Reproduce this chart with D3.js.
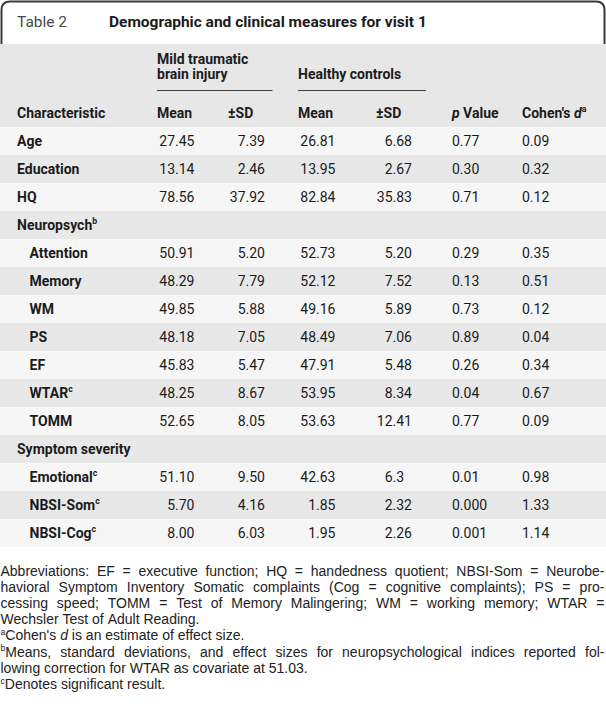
<!DOCTYPE html>
<html>
<head>
<meta charset="utf-8">
<script src="https://cdn.jsdelivr.net/npm/d3@7"></script>
<style>
  html, body { margin: 0; padding: 0; background: #fff; }
  svg { display: block; font-family: Roboto, "Liberation Sans", Arial, sans-serif; }
  text { white-space: pre; }
</style>
</head>
<body>
<svg id="table" width="606" height="716"></svg>
<script>
// table content
const characteristics = ["Age", "Education", "HQ", "Neuropsych^b", "Attention", "Memory", "WM", "PS", "EF",
  "WTAR^c", "TOMM", "Symptom severity", "Emotional^c", "NBSI-Som^c", "NBSI-Cog^c"];
const indented = [false, false, false, false, true, true, true, true, true, true, true, false, true, true, true];
const mtbiMean = ["27.45", "13.14", "78.56", "", "50.91", "48.29", "49.85", "48.18", "45.83", "48.25", "52.65", "", "51.10", "5.70", "8.00"];
const mtbiSD = ["7.39", "2.46", "37.92", "", "5.20", "7.79", "5.88", "7.05", "5.47", "8.67", "8.05", "", "9.50", "4.16", "6.03"];
const hcMean = ["26.81", "13.95", "82.84", "", "52.73", "52.12", "49.16", "48.49", "47.91", "53.95", "53.63", "", "42.63", "1.85", "1.95"];
const hcSD = ["6.68", "2.67", "35.83", "", "5.20", "7.52", "5.89", "7.06", "5.48", "8.34", "12.41", "", "6.3", "2.32", "2.26"];
const pValue = ["0.77", "0.30", "0.71", "", "0.29", "0.13", "0.73", "0.89", "0.26", "0.04", "0.77", "", "0.01", "0.000", "0.001"];
const cohenD = ["0.09", "0.32", "0.12", "", "0.35", "0.51", "0.12", "0.04", "0.34", "0.67", "0.09", "", "0.98", "1.33", "1.14"];

const columnHeads = ["Characteristic", "Mean", "±SD", "Mean", "±SD", "*p* Value", "Cohen's *d*^a"];
const footnotes = [
  ["Abbreviations: EF = executive function; HQ = handedness quotient; NBSI-Som = Neurobe-", true],
  ["havioral Symptom Inventory Somatic complaints (Cog = cognitive complaints); PS = pro-", true],
  ["cessing speed; TOMM = Test of Memory Malingering; WM = working memory; WTAR =", true],
  ["Wechsler Test of Adult Reading.", false],
  ["^aCohen's *d* is an estimate of effect size.", false],
  ["^bMeans, standard deviations, and effect sizes for neuropsychological indices reported fol-", true],
  ["lowing correction for WTAR as covariate at 51.03.", false],
  ["^cDenotes significant result.", false]
];

const ink = "#1b1b1b";
const fs = 14;
const svg = d3.select("#table");

// split "Cohen's *d*^a" into plain / italic / superscript pieces
function parse(str) {
  return str.split(/(\*[^*]+\*|\^[a-z])/).filter(s => s).map(s => {
    if (s[0] === "*") return { t: s.slice(1, -1), it: true };
    if (s[0] === "^") return { t: s.slice(1), sup: true };
    return { t: s };
  });
}

function rich(g, str, x, y, size, weight, fill) {
  const t = g.append("text")
    .attr("x", x).attr("y", y)
    .attr("font-size", size)
    .attr("font-weight", weight || 400)
    .attr("fill", fill || ink);
  let shift = 0;
  parse(str).forEach(p => {
    const ts = t.append("tspan").text(p.t);
    if (p.it) ts.attr("font-style", "italic");
    if (p.sup) {
      ts.attr("font-size", size * 0.62).attr("dy", -size * 0.36);
      shift = size * 0.36;
    } else if (shift) {
      ts.attr("dy", shift);
      shift = 0;
    }
  });
  return t;
}

/**
 * Title box
 */
svg.append("path")
  .attr("d", "M1.5,44 V10 Q1.5,1.5 10,1.5 H596 Q604.5,1.5 604.5,10 V44")
  .attr("fill", "none")
  .attr("stroke", "#3a3a3a")
  .attr("stroke-width", 2);

rich(svg, "Table 2", 17, 27, 15.5, 400, "#4a4a4a");
rich(svg, "Demographic and clinical measures for visit 1", 109, 27, 15.5, 700, ink);

/**
 * Row scale and shading
 */
const y = d3.scaleBand()
  .domain(d3.range(characteristics.length))
  .range([127, 547]);

svg.append("rect")
  .attr("x", 0).attr("y", 44)
  .attr("width", 606).attr("height", y(0) - 44)
  .attr("fill", "#e7e7e7");

svg.selectAll("rect.row")
  .data(characteristics)
  .enter()
  .append("rect")
  .attr("class", "row")
  .attr("x", 0)
  .attr("y", (d, i) => y(i))
  .attr("width", 606)
  .attr("height", y.bandwidth())
  .attr("fill", (d, i) => i % 2 ? "#e8e8e8" : "#f6f6f6");

/**
 * Header
 */
const colX = d3.scaleOrdinal()
  .domain(d3.range(columnHeads.length))
  .range([17, 157, 228, 298, 376, 452, 522]);

rich(svg, "Mild traumatic", colX(1), 64, fs, 700);
rich(svg, "brain injury", colX(1), 78.5, fs, 700);
rich(svg, "Healthy controls", colX(3), 78.5, fs, 700);

svg.selectAll("line.group")
  .data([[colX(1), 272.5], [colX(3), 426]])
  .enter()
  .append("line")
  .attr("class", "group")
  .attr("x1", d => d[0]).attr("x2", d => d[1])
  .attr("y1", 90.5).attr("y2", 90.5)
  .attr("stroke", "#444")
  .attr("stroke-width", 1);

columnHeads.forEach((h, i) => rich(svg, h, colX(i), 117.5, fs, 700));

/**
 * Body
 */
const body = svg.append("g");
characteristics.forEach((c, i) => {
  rich(body, c, indented[i] ? 29.5 : 17, y(i) + 18.5, fs, 700);
});

// decimal-aligned numeric columns, right edge given for two decimals
const probe = svg.append("text").attr("font-size", fs).text(".00");
const fracW = probe.node().getComputedTextLength();
probe.remove();

function decimalColumn(values, rightEdge) {
  const dec = rightEdge - fracW;
  values.forEach((v, i) => {
    if (!v) return;
    const [a, b] = v.split(".");
    body.append("text").attr("x", dec).attr("y", y(i) + 18.5)
      .attr("font-size", fs).attr("fill", ink).attr("text-anchor", "end").text(a);
    body.append("text").attr("x", dec).attr("y", y(i) + 18.5)
      .attr("font-size", fs).attr("fill", ink).text("." + b);
  });
}
decimalColumn(mtbiMean, 194.5);
decimalColumn(mtbiSD, 265);
decimalColumn(hcMean, 335.5);
decimalColumn(hcSD, 412);

[[pValue, 5], [cohenD, 6]].forEach(([vals, c]) => {
  body.selectAll(null)
    .data(vals)
    .enter()
    .append("text")
    .attr("x", colX(c))
    .attr("y", (d, i) => y(i) + 18.5)
    .attr("font-size", fs)
    .attr("fill", ink)
    .text(d => d);
});

/**
 * Footnotes, justified by hand
 */
const fnSize = 14, fnLeft = 0.5, fnRight = 604.5, fnTop = 576, fnStep = 16.1;
const notes = svg.append("g").attr("font-family", "'Liberation Sans', Arial, sans-serif");
const sp = notes.append("text").attr("font-size", fnSize).text("a a");
const spaceW = sp.node().getComputedTextLength();
sp.text("aa");
const spaceOnly = spaceW - sp.node().getComputedTextLength();
sp.remove();

footnotes.forEach(([line, justify], li) => {
  const yy = fnTop + li * fnStep;
  const words = line.split(" ");
  const nodes = words.map(w => rich(notes, w, 0, yy, fnSize, 400, "#222"));
  const widths = nodes.map(n => n.node().getComputedTextLength());
  const gap = justify && words.length > 1
    ? (fnRight - fnLeft - d3.sum(widths)) / (words.length - 1)
    : spaceOnly;
  let x = fnLeft;
  nodes.forEach((n, i) => {
    n.attr("x", x);
    x += widths[i] + gap;
  });
});
</script>
</body>
</html>
